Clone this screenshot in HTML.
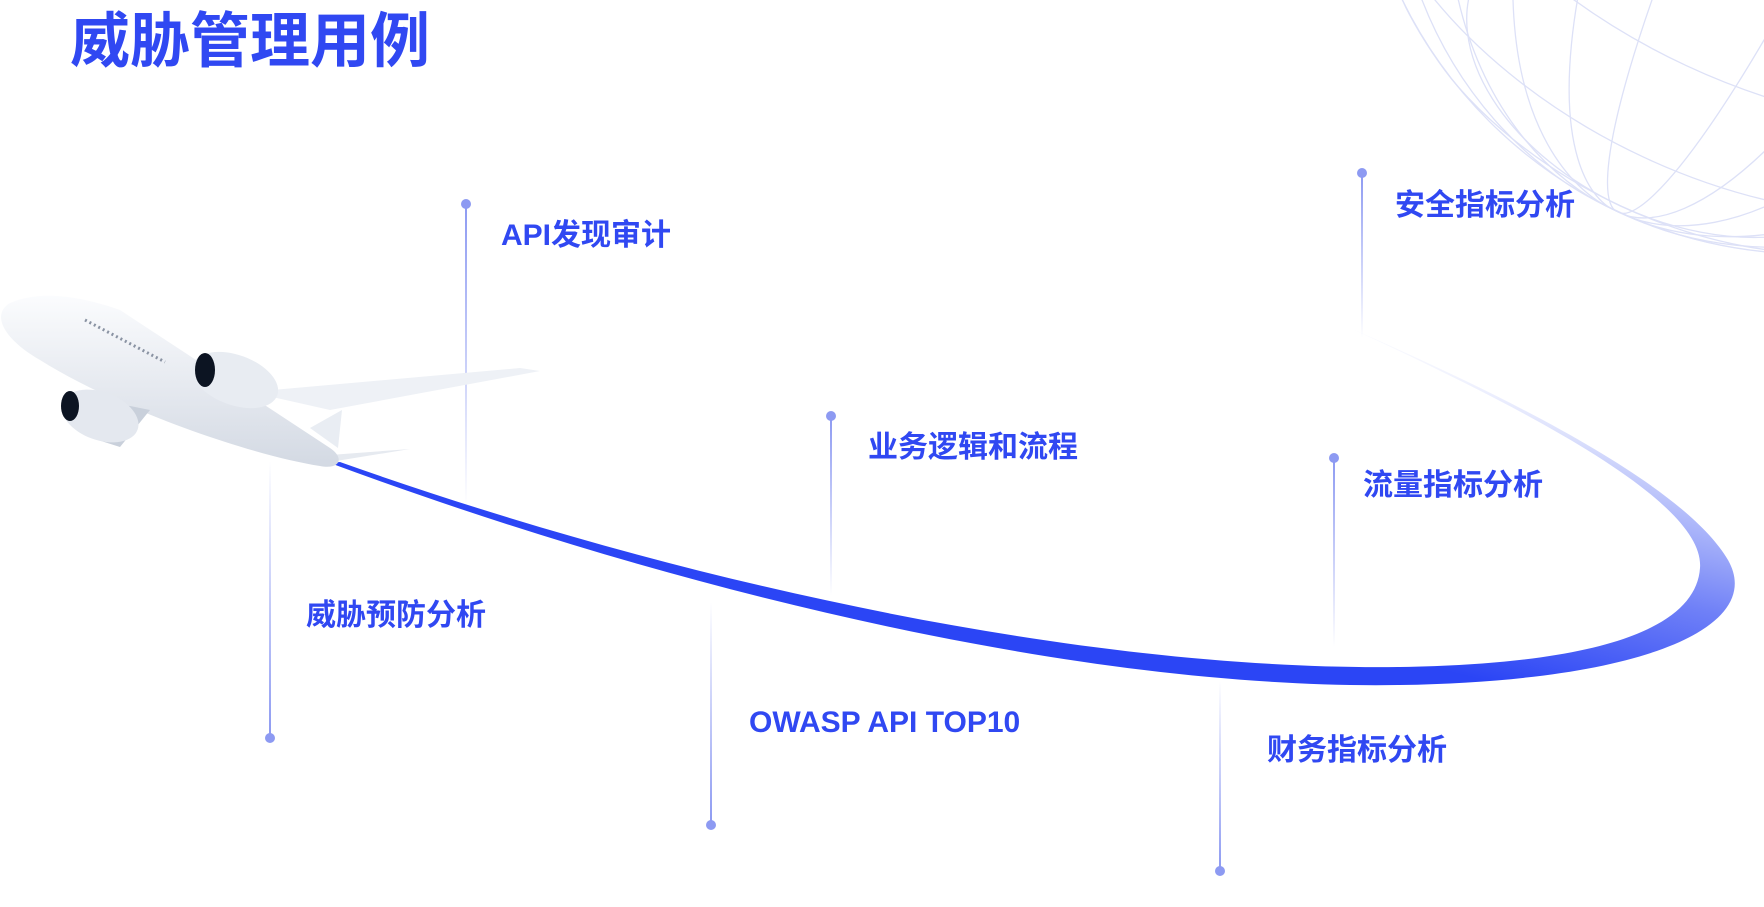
<!DOCTYPE html>
<html><head><meta charset="utf-8"><style>
html,body{margin:0;padding:0;background:#fff;}
body{width:1764px;height:907px;position:relative;overflow:hidden;font-family:"Liberation Sans","Noto Sans CJK SC",sans-serif;}
.t{position:absolute;color:#3048f2;font-weight:bold;font-size:30px;white-space:nowrap;line-height:1;}
</style></head><body>
<svg width="1764" height="907" viewBox="0 0 1764 907" style="position:absolute;left:0;top:0">
<defs>
<linearGradient id="sw" gradientUnits="userSpaceOnUse" x1="1400" y1="660" x2="1480" y2="330">
<stop offset="0" stop-color="#2b45f5"/><stop offset="0.35" stop-color="#6f80f7"/><stop offset="0.7" stop-color="#c9d0fb"/><stop offset="1" stop-color="#fff" stop-opacity="0"/>
</linearGradient>
<linearGradient id="ld" x1="0" y1="0" x2="0" y2="1"><stop offset="0" stop-color="#8d9af2"/><stop offset="1" stop-color="#8d9af2" stop-opacity="0"/></linearGradient>
<linearGradient id="lu" x1="0" y1="1" x2="0" y2="0"><stop offset="0" stop-color="#8d9af2"/><stop offset="1" stop-color="#8d9af2" stop-opacity="0"/></linearGradient>
<linearGradient id="pl" x1="0" y1="0" x2="0" y2="1"><stop offset="0" stop-color="#fbfcfe"/><stop offset="1" stop-color="#d3d9e3"/></linearGradient>
<clipPath id="gc"><circle cx="1810" cy="-200" r="455"/></clipPath>
</defs>
<!-- globe -->
<g clip-path="url(#gc)" fill="none" stroke="#dde1f7" stroke-width="1.3">
<circle cx="1810" cy="-200" r="454"/>
<g transform="translate(1810 -200) rotate(25)">
<ellipse cx="0" cy="0" rx="455" ry="293"/>
<ellipse cx="0" cy="119" rx="428" ry="275"/>
<ellipse cx="0" cy="224" rx="349" ry="224"/>
<ellipse cx="0" cy="302" rx="228" ry="146"/>
<ellipse cx="0" cy="-119" rx="428" ry="275"/>
<ellipse cx="0" cy="-224" rx="349" ry="224"/>
<ellipse cx="0" cy="-302" rx="228" ry="146"/>
<ellipse cx="0" cy="0" rx="70" ry="455"/>
<ellipse cx="0" cy="0" rx="160" ry="455"/>
<ellipse cx="0" cy="0" rx="250" ry="455"/>
<ellipse cx="0" cy="0" rx="340" ry="455"/>
<ellipse cx="0" cy="0" rx="410" ry="455"/>
</g>
</g>
<!-- swoosh -->
<path d="M330 463 C700 600 1100 690 1400 685 C1650 681 1765 625 1728 560 C1690 495 1550 415 1350 328 C1545 418 1705 505 1700 568 C1696 628 1600 664 1400 667 C1100 671 700 590 340 462 Z" fill="url(#sw)"/>
<!-- lines -->
<g>
<rect x="465" y="204" width="2" height="302" fill="url(#ld)"/><circle cx="466" cy="204" r="5" fill="#8d9af2"/>
<rect x="1361" y="173" width="2" height="165" fill="url(#ld)"/><circle cx="1362" cy="173" r="5" fill="#8d9af2"/>
<rect x="830" y="416" width="2" height="180" fill="url(#ld)"/><circle cx="831" cy="416" r="5" fill="#8d9af2"/>
<rect x="1333" y="458" width="2" height="189" fill="url(#ld)"/><circle cx="1334" cy="458" r="5" fill="#8d9af2"/>
<rect x="269" y="461" width="2" height="277" fill="url(#lu)"/><circle cx="270" cy="738" r="5" fill="#8d9af2"/>
<rect x="710" y="602" width="2" height="223" fill="url(#lu)"/><circle cx="711" cy="825" r="5" fill="#8d9af2"/>
<rect x="1219" y="681" width="2" height="190" fill="url(#lu)"/><circle cx="1220" cy="871" r="5" fill="#8d9af2"/>
</g>
<!-- airplane -->
<g>
<path d="M250 392 L520 368 L540 371 L330 410 Z" fill="#eef1f6"/>
<path d="M310 428 L342 410 L338 448 Z" fill="#e9edf3"/>
<path d="M330 455 L410 449 L330 462 Z" fill="#e6eaf0"/>
<path d="M10 303 C40 290 80 296 120 310 L330 448 C345 458 340 470 320 466 C250 455 120 410 40 360 C5 340 -10 315 10 303 Z" fill="url(#pl)"/>
<path d="M100 400 L150 410 L120 447 L98 440 Z" fill="#c9d0db"/>
<ellipse cx="100" cy="416" rx="40" ry="24" transform="rotate(20 100 416)" fill="#e4e8ef"/>
<ellipse cx="70" cy="406" rx="9" ry="15" fill="#0c1422"/>
<ellipse cx="235" cy="380" rx="45" ry="25" transform="rotate(20 235 380)" fill="#e8ecf2"/>
<ellipse cx="205" cy="370" rx="10" ry="17" fill="#0c1422"/>
<path d="M85 320 L165 362" stroke="#8a93a3" stroke-width="3" stroke-dasharray="2 3"/>
</g>
</svg>
<div class="t" style="left:70px;top:12px;font-size:60px;">威胁管理用例</div>
<div class="t" style="left:501px;top:221px;">API发现审计</div>
<div class="t" style="left:1395px;top:191px;">安全指标分析</div>
<div class="t" style="left:868px;top:433px;">业务逻辑和流程</div>
<div class="t" style="left:1363px;top:471px;">流量指标分析</div>
<div class="t" style="left:306px;top:601px;">威胁预防分析</div>
<div class="t" style="left:749px;top:708px;">OWASP API TOP10</div>
<div class="t" style="left:1267px;top:736px;">财务指标分析</div>
</body></html>
